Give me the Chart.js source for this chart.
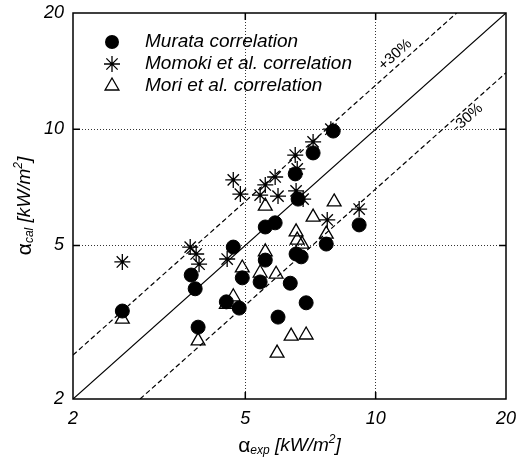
<!DOCTYPE html>
<html>
<head>
<meta charset="utf-8">
<script src="https://cdn.jsdelivr.net/npm/chart.js@4/dist/chart.umd.min.js"></script>
<style>
  html, body { margin: 0; padding: 0; background: #fff; }
  canvas { display: block; }
</style>
</head>
<body>
<canvas id="chart" width="520" height="459"></canvas>
<script>
// heat transfer coefficients, measured vs. calculated [kW/m2]
const murataExp = [7.98, 7.17, 6.52, 6.62, 5.56, 5.86, 9.16, 7.69, 4.69, 5.56, 6.55, 6.73,
                   4.92, 5.41, 6.35, 3.75, 3.83, 2.60, 4.52, 4.84, 6.91, 5.95, 3.89];
const murataCal = [9.89, 8.68, 7.66, 6.59, 5.58, 5.72, 5.65, 5.04, 4.95, 4.58, 4.75, 4.67,
                   4.12, 4.02, 3.99, 4.19, 3.86, 3.38, 3.57, 3.44, 3.55, 3.26, 3.07];

const momokiExp = [7.88, 7.17, 6.52, 6.59, 5.86, 5.56, 4.69, 4.87, 5.41, 5.95, 6.55, 6.80,
                   7.73, 9.16, 3.73, 3.85, 3.91, 2.60, 4.54];
const momokiCal = [10.0, 9.27, 8.57, 7.89, 7.52, 7.17, 7.39, 6.79, 6.75, 6.71, 6.92, 6.59,
                   5.82, 6.21, 4.95, 4.75, 4.47, 4.53, 4.61];

const moriExp = [5.56, 8.02, 7.17, 6.55, 6.59, 6.76, 7.69, 5.56, 4.92, 5.41, 5.89, 4.69,
                 4.52, 2.60, 3.89, 6.38, 6.91, 5.92];
const moriCal = [6.32, 6.48, 5.92, 5.42, 5.16, 5.04, 5.35, 4.81, 4.37, 4.24, 4.21, 3.68,
                 3.52, 3.22, 2.83, 2.91, 2.93, 2.63];

// reference lines: y = x and +/-30 %
const diagX = [2, 20],     diagY = [2, 20];
const plusX = [2, 15.385], plusY = [2.6, 20];
const minusX = [2.857, 20], minusY = [2, 14];

const tickValues = [2, 5, 10, 20];
const legendLabels = ['Murata correlation', 'Momoki et al. correlation', 'Mori et al. correlation'];

const toPoints = (xs, ys) => xs.map((x, i) => ({ x: x, y: ys[i] }));

const FONT = '"Liberation Sans", Arial, sans-serif';

function drawMarker(ctx, style, x, y) {
  ctx.save();
  ctx.strokeStyle = '#000';
  ctx.fillStyle = '#000';
  ctx.lineWidth = 1.3;
  ctx.beginPath();
  if (style === 'circle') {
    ctx.arc(x, y, 7, 0, Math.PI * 2);
    ctx.fill();
  } else if (style === 'star') {
    const r = 8, d = r * Math.SQRT1_2;
    ctx.moveTo(x - r, y); ctx.lineTo(x + r, y);
    ctx.moveTo(x, y - r); ctx.lineTo(x, y + r);
    ctx.moveTo(x - d, y - d); ctx.lineTo(x + d, y + d);
    ctx.moveTo(x - d, y + d); ctx.lineTo(x + d, y - d);
    ctx.stroke();
  } else {
    const r = 8;
    ctx.moveTo(x, y - r);
    ctx.lineTo(x + r * 0.866, y + r / 2);
    ctx.lineTo(x - r * 0.866, y + r / 2);
    ctx.closePath();
    ctx.stroke();
  }
  ctx.restore();
}

function drawAxisTitle(ctx, sub, cx, cy, rot) {
  ctx.save();
  ctx.translate(cx, cy);
  ctx.rotate(rot);
  const big = 'italic 19px ' + FONT;
  const small = 'italic 12px ' + FONT;
  const parts = [
    { t: '\u03b1', f: '21px ' + FONT, dy: 0 },
    { t: sub, f: small, dy: 5 },
    { t: ' [kW/m', f: big, dy: 0 },
    { t: '2', f: small, dy: -6 },
    { t: ']', f: big, dy: 0 }
  ];
  let w = 0;
  parts.forEach(p => { ctx.font = p.f; p.w = ctx.measureText(p.t).width; w += p.w; });
  let x = -w / 2;
  ctx.textBaseline = 'middle';
  ctx.fillStyle = '#000';
  parts.forEach(p => { ctx.font = p.f; ctx.fillText(p.t, x, p.dy); x += p.w; });
  ctx.restore();
}

const decorations = {
  id: 'decorations',
  afterDatasetsDraw(chart) {
    const ctx = chart.ctx;
    const a = chart.chartArea;
    const xs = chart.scales.x, ys = chart.scales.y;

    // inner tick marks on all four sides
    ctx.save();
    ctx.strokeStyle = '#000';
    ctx.lineWidth = 1.5;
    ctx.beginPath();
    [5, 10].forEach(v => {
      const px = xs.getPixelForValue(v), py = ys.getPixelForValue(v);
      ctx.moveTo(px, a.bottom); ctx.lineTo(px, a.bottom - 7);
      ctx.moveTo(px, a.top); ctx.lineTo(px, a.top + 7);
      ctx.moveTo(a.left, py); ctx.lineTo(a.left + 7, py);
      ctx.moveTo(a.right, py); ctx.lineTo(a.right - 7, py);
    });
    ctx.stroke();
    // frame
    ctx.strokeRect(a.left, a.top, a.right - a.left, a.bottom - a.top);
    ctx.restore();

    // +30 % / -30 % labels along the lines
    const ang = Math.atan2(ys.getPixelForValue(20) - ys.getPixelForValue(2),
                           xs.getPixelForValue(20) - xs.getPixelForValue(2));
    ctx.save();
    ctx.fillStyle = '#000';
    ctx.font = '15px ' + FONT;
    ctx.textAlign = 'center';
    ctx.textBaseline = 'middle';
    [['+30%', 11.1, 15.6], ['-30%', 16.3, 10.7]].forEach(([t, vx, vy]) => {
      ctx.save();
      ctx.translate(xs.getPixelForValue(vx), ys.getPixelForValue(vy));
      ctx.rotate(ang);
      ctx.fillText(t, 0, 0);
      ctx.restore();
    });
    ctx.restore();

    // legend inside the plot
    const styles = ['circle', 'star', 'triangle'];
    ctx.save();
    ctx.font = 'italic 19px ' + FONT;
    ctx.fillStyle = '#000';
    ctx.textBaseline = 'middle';
    legendLabels.forEach((label, i) => {
      const y = a.top + 29 + i * 22;
      drawMarker(ctx, styles[i], a.left + 39, y);
      ctx.fillText(label, a.left + 72, y);
    });
    ctx.restore();

    // axis titles
    drawAxisTitle(ctx, 'exp', (a.left + a.right) / 2, 446, 0);
    drawAxisTitle(ctx, 'cal', 25, (a.top + a.bottom) / 2, -Math.PI / 2);
  }
};

const gridColor = c => (c.tick && (c.tick.value === 5 || c.tick.value === 10)) ? '#333' : 'rgba(0,0,0,0)';
const tickFont = { family: FONT, size: 18, style: 'italic' };

// drop the label overflow padding so the plot frame sits where the layout padding says
function noLabelPadding(s) {
  s.paddingTop = 0; s.paddingBottom = 0; s.paddingLeft = 0; s.paddingRight = 0;
}

new Chart(document.getElementById('chart'), {
  type: 'scatter',
  data: {
    datasets: [
      {
        label: legendLabels[0],
        data: toPoints(murataExp, murataCal),
        pointStyle: 'circle', pointRadius: 7,
        backgroundColor: '#000', borderColor: '#000', borderWidth: 1,
        order: 0
      },
      {
        label: legendLabels[2],
        data: toPoints(moriExp, moriCal),
        pointStyle: 'triangle', pointRadius: 8,
        backgroundColor: 'rgba(0,0,0,0)', borderColor: '#000', borderWidth: 1.3,
        order: 1
      },
      {
        label: legendLabels[1],
        data: toPoints(momokiExp, momokiCal),
        pointStyle: 'star', pointRadius: 8,
        backgroundColor: '#000', borderColor: '#000', borderWidth: 1.3,
        order: 2
      },
      {
        type: 'line', data: toPoints(diagX, diagY),
        borderColor: '#000', borderWidth: 1.2, pointRadius: 0, order: 3
      },
      {
        type: 'line', data: toPoints(plusX, plusY),
        borderColor: '#000', borderWidth: 1.2, borderDash: [5, 3], pointRadius: 0, order: 3
      },
      {
        type: 'line', data: toPoints(minusX, minusY),
        borderColor: '#000', borderWidth: 1.2, borderDash: [5, 3], pointRadius: 0, order: 3
      }
    ]
  },
  options: {
    responsive: false,
    animation: false,
    events: [],
    layout: { autoPadding: false, padding: { left: 0, right: 14, top: 13, bottom: 0 } },
    plugins: { legend: { display: false }, tooltip: { enabled: false } },
    scales: {
      x: {
        type: 'logarithmic', min: 2, max: 20,
        afterBuildTicks: s => { s.ticks = tickValues.map(v => ({ value: v })); },
        afterFit: s => { s.height = 60; noLabelPadding(s); },
        ticks: { font: tickFont, color: '#000', padding: 9, maxRotation: 0, autoSkip: false,
                 callback: v => String(v) },
        grid: { color: gridColor, lineWidth: 1, drawTicks: false },
        border: { display: false, dash: [1, 2] }
      },
      y: {
        type: 'logarithmic', min: 2, max: 20,
        afterBuildTicks: s => { s.ticks = tickValues.map(v => ({ value: v })); },
        afterFit: s => { s.width = 73; noLabelPadding(s); },
        ticks: { font: tickFont, color: '#000', padding: 9, autoSkip: false,
                 callback: v => String(v) },
        grid: { color: gridColor, lineWidth: 1, drawTicks: false },
        border: { display: false, dash: [1, 2] }
      }
    }
  },
  plugins: [decorations]
});
</script>
</body>
</html>
